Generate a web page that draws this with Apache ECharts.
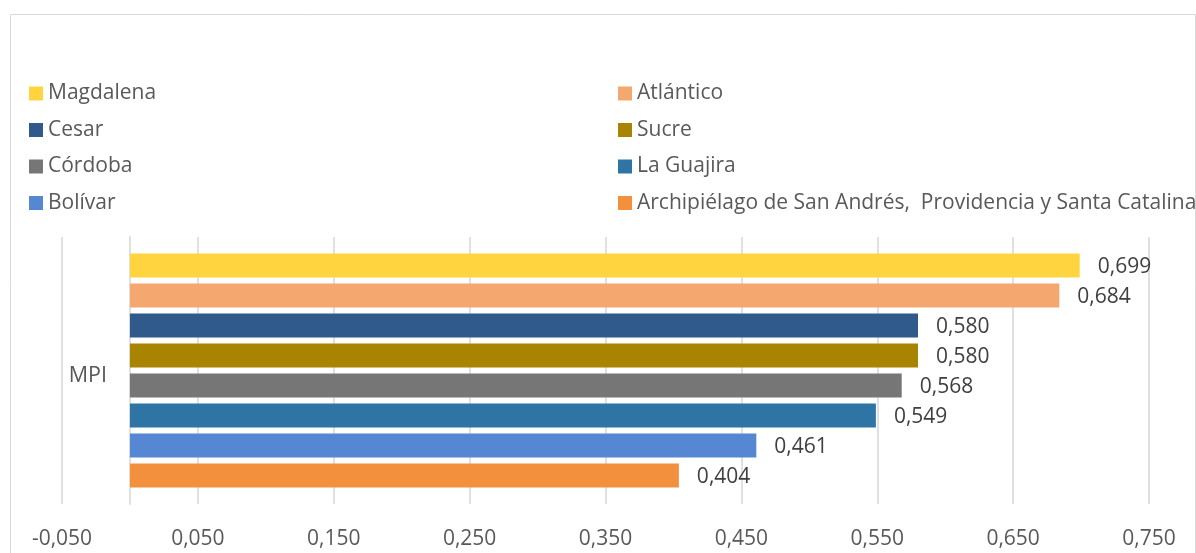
<!DOCTYPE html>
<html>
<head>
<meta charset="utf-8">
<script src="https://cdn.jsdelivr.net/npm/echarts@6/dist/echarts.min.js"></script>
<style>
html,body{margin:0;padding:0;background:#fff;}
#chart{width:1196px;height:553px;}
</style>
</head>
<body>
<div id="chart"></div>
<script>
var categories = ['MPI'];
var seriesNames = ['Magdalena', 'Atlántico', 'Cesar', 'Sucre', 'Córdoba', 'La Guajira', 'Bolívar', 'Archipiélago de San Andrés,  Providencia y Santa Catalina'];
var seriesValues = [0.699, 0.684, 0.580, 0.580, 0.568, 0.549, 0.461, 0.404];
var seriesColors = ['#FFD43F', '#F4A76E', '#2F5A8B', '#A98400', '#767676', '#2E74A5', '#5687D2', '#F2903D'];
var legendLeft = ['Magdalena', 'Cesar', 'Córdoba', 'Bolívar'];
var legendRight = ['Atlántico', 'Sucre', 'La Guajira', 'Archipiélago de San Andrés,  Providencia y Santa Catalina'];

var FONT = 'Open Sans';
function fmt(v) { return v.toFixed(3).replace('.', ','); }

var series = seriesNames.map(function (name, i) {
  return {
    name: name,
    type: 'bar',
    barWidth: 24,
    barGap: '25%',
    data: [seriesValues[i]],
    itemStyle: { color: seriesColors[i] },
    label: {
      show: true,
      position: 'right',
      distance: 18,
      offset: [0, 2],
      formatter: function (p) { return fmt(p.value); },
      color: '#404040',
      fontSize: 21,
      fontFamily: FONT
    }
  };
});

var legendCommon = {
  orient: 'vertical',
  top: 78,
  icon: 'rect',
  itemWidth: 14,
  itemHeight: 14,
  itemGap: 15.5,
  selectedMode: false,
  textStyle: { color: '#595959', fontSize: 21, fontFamily: FONT, lineHeight: 20, padding: [0, 0, 0, 0] }
};

var option = {
  backgroundColor: '#fff',
  animation: false,
  textStyle: { fontFamily: FONT },
  graphic: [{
    type: 'rect',
    shape: { x: 10.5, y: 14.5, width: 1185, height: 545 },
    style: { fill: 'none', stroke: '#d9d9d9', lineWidth: 1 },
    silent: true,
    z: -1
  }],
  legend: [
    Object.assign({}, legendCommon, { left: 24, data: legendLeft }),
    Object.assign({}, legendCommon, { left: 613, data: legendRight })
  ],
  grid: { left: 62, right: 47, top: 237, bottom: 49, containLabel: false },
  xAxis: {
    type: 'value',
    min: -0.05,
    max: 0.75,
    interval: 0.1,
    axisLine: { show: false },
    axisTick: { show: false },
    axisLabel: {
      formatter: function (v) { return fmt(v); },
      color: '#595959',
      fontSize: 21,
      fontFamily: FONT,
      margin: 25,
      showMinLabel: true,
      showMaxLabel: true
    },
    splitLine: { show: true, lineStyle: { color: '#e0e0e0', width: 2 } }
  },
  yAxis: {
    type: 'category',
    data: categories,
    inverse: true,
    axisLine: { show: true, onZero: true, lineStyle: { color: '#e0e0e0', width: 2 } },
    axisTick: { show: false },
    axisLabel: {
      margin: -45,
      formatter: function (v) { return '{a|' + v + '}'; },
      rich: {
        a: { color: '#595959', fontSize: 21.5, fontFamily: FONT, padding: [10, 0, 0, 0] }
      }
    },
    splitLine: { show: false }
  },
  series: series
};

var chart = echarts.init(document.getElementById('chart'), null, { renderer: 'canvas' });
chart.setOption(option);
</script>
</body>
</html>
